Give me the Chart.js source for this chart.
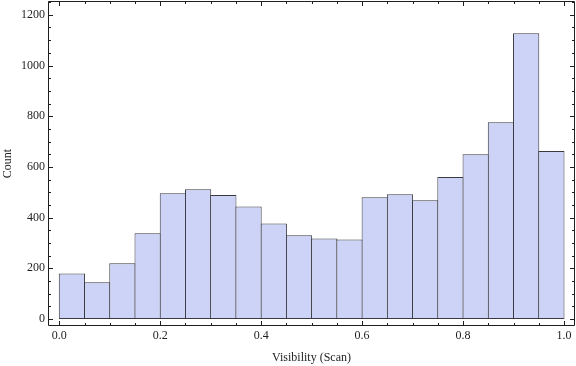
<!DOCTYPE html>
<html>
<head>
<meta charset="utf-8">
<script src="https://cdn.jsdelivr.net/npm/chart.js@4"></script>
<style>
  html, body { margin: 0; padding: 0; background: #fff; }
  #wrap { width: 576px; height: 366px; }
</style>
</head>
<body>
<div id="wrap"><canvas id="histChart" width="576" height="366"></canvas></div>
<script>
// histogram bins (centres of 0.05 wide bins) and counts
const binCenters = [0.025, 0.075, 0.125, 0.175, 0.225, 0.275, 0.325, 0.375, 0.425, 0.475,
                    0.525, 0.575, 0.625, 0.675, 0.725, 0.775, 0.825, 0.875, 0.925, 0.975];
const counts = [180, 145, 220, 338, 496, 512, 489, 444, 377, 330,
                318, 314, 480, 492, 468, 560, 650, 776, 1127, 663];

const xTicks = [0, 0.2, 0.4, 0.6, 0.8, 1.0];
const xTickLabels = ['0.0', '0.2', '0.4', '0.6', '0.8', '1.0'];
const xMinorTicks = [0.05, 0.1, 0.15, 0.25, 0.3, 0.35, 0.45, 0.5, 0.55, 0.65, 0.7, 0.75, 0.85, 0.9, 0.95];
const yTicks = [0, 200, 400, 600, 800, 1000, 1200];
const yMinorTicks = [50, 100, 150, 250, 300, 350, 450, 500, 550, 650, 700, 750, 850, 900, 950, 1050, 1100, 1150, 1250];

const frameColor = '#1e1e1e';
const textColor = '#1e1e1e';
const serif = "'Liberation Serif', 'DejaVu Serif', serif";

// frame box with inward ticks on all four sides (Mathematica style)
const frameTicks = {
    id: 'frameTicks',
    afterDatasetsDraw(chart) {
        const { ctx, chartArea: a, scales: { x, y } } = chart;
        ctx.save();
        ctx.strokeStyle = frameColor;
        ctx.lineWidth = 1;
        ctx.beginPath();
        ctx.rect(a.left + 0.5, a.top + 0.5, a.right - a.left - 1, a.bottom - a.top - 1);
        ctx.stroke();

        const tick = (vals, len) => {
            vals.forEach(v => {
                const px = Math.round(x.getPixelForValue(v)) + 0.5;
                ctx.moveTo(px, a.bottom); ctx.lineTo(px, a.bottom - len);
                ctx.moveTo(px, a.top); ctx.lineTo(px, a.top + len);
            });
        };
        const ytick = (vals, len) => {
            vals.forEach(v => {
                const py = Math.round(y.getPixelForValue(v)) + 0.5;
                ctx.moveTo(a.left, py); ctx.lineTo(a.left + len, py);
                ctx.moveTo(a.right, py); ctx.lineTo(a.right - len, py);
            });
        };
        ctx.beginPath();
        tick(xTicks, 5);
        tick(xMinorTicks, 3);
        ytick(yTicks, 5);
        ytick(yMinorTicks, 3);
        ctx.stroke();
        ctx.restore();
    }
};

new Chart(document.getElementById('histChart'), {
    type: 'bar',
    data: {
        datasets: [{
            data: binCenters.map((c, i) => ({ x: c, y: counts[i] })),
            backgroundColor: '#CCD3F6',
            borderColor: '#3a3a42',
            borderWidth: 1,
            borderSkipped: false,
            barPercentage: 1.04,   // bars overlap by ~1px so neighbours share one edge line
            categoryPercentage: 1
        }]
    },
    options: {
        responsive: false,
        devicePixelRatio: 1,
        animation: false,
        layout: { padding: { top: 1, right: 1, left: 0, bottom: 0 } },
        plugins: {
            legend: { display: false },
            tooltip: { enabled: false }
        },
        scales: {
            x: {
                type: 'linear',
                offset: false,
                min: -0.0224,
                max: 1.0218,
                grid: { display: false, drawTicks: false, offset: false },
                border: { display: false },
                afterBuildTicks: (s) => { s.ticks = xTicks.map(v => ({ value: v })); },
                afterFit: (s) => { s.height = 40; s.paddingLeft = 0; s.paddingRight = 0; },
                ticks: {
                    autoSkip: false,
                    maxRotation: 0,
                    padding: 3,
                    color: textColor,
                    font: { family: serif, size: 12 },
                    callback: (v) => xTickLabels[xTicks.indexOf(v)]
                },
                title: {
                    display: true,
                    text: 'Visibility (Scan)',
                    color: textColor,
                    font: { family: serif, size: 12 },
                    padding: { top: 0, bottom: 1 }
                }
            },
            y: {
                min: -27.6,
                max: 1254.5,
                grid: { display: false, drawTicks: false },
                border: { display: false },
                afterBuildTicks: (s) => { s.ticks = yTicks.map(v => ({ value: v })); },
                afterFit: (s) => { s.width = 48; s.paddingTop = 0; s.paddingBottom = 0; },
                ticks: {
                    padding: 3,
                    color: textColor,
                    font: { family: serif, size: 12 },
                    callback: (v) => String(v)
                },
                title: {
                    display: true,
                    text: 'Count',
                    color: textColor,
                    font: { family: serif, size: 12 },
                    padding: { top: 1, bottom: 0 }
                }
            }
        }
    },
    plugins: [frameTicks]
});
</script>
</body>
</html>
